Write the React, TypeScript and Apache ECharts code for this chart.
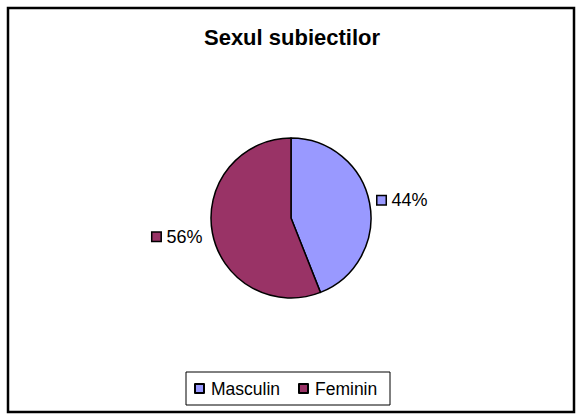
import React, { useEffect, useRef } from "react";
import * as echarts from "echarts";

const titleText = "Sexul subiectilor";
const categories = ["Masculin", "Feminin"];
const values = [44, 56];
const colors = ["#9999FF", "#993366"];

export default function App() {
  const ref = useRef<HTMLDivElement>(null);
  useEffect(() => {
    if (!ref.current) return;
    const chart = echarts.init(ref.current, undefined, { renderer: "svg" });
    const font = "Arial, 'Liberation Sans', sans-serif";
    const legendWidths: Record<string, number> = { Masculin: 78, Feminin: 66 };
    const labelOffsets = [[1, -2], [-3, 3]];
    chart.setOption({
      animation: false,
      backgroundColor: "#ffffff",
      title: {
        text: titleText,
        left: "center",
        top: 26,
        padding: 0,
        textStyle: { fontFamily: font, fontSize: 22, fontWeight: "bold", color: "#000" },
      },
      legend: {
        left: 186,
        top: 372,
        orient: "horizontal",
        icon: "rect",
        itemWidth: 9,
        itemHeight: 9,
        itemGap: 9,
        borderColor: "#000",
        borderWidth: 1,
        borderRadius: 0,
        padding: [6, 9, 6, 8],
        data: categories.map((c) => ({
          name: c,
          textStyle: { width: legendWidths[c] },
        })),
        textStyle: {
          fontFamily: font,
          fontSize: 17.5,
          color: "#000",
          lineHeight: 21,
          padding: [0, 0, 0, 2],
        },
      },
      graphic: [
        {
          type: "rect",
          shape: { x: 8, y: 8, width: 566, height: 404 },
          style: { fill: "none", stroke: "#000", lineWidth: 2.5 },
          silent: true,
        },
      ],
      series: [
        {
          type: "pie",
          center: [291, 218],
          radius: 80,
          startAngle: 90,
          clockwise: true,
          avoidLabelOverlap: false,
          itemStyle: { borderColor: "#000", borderWidth: 1.5 },
          labelLine: { show: false, length: 4, length2: 0 },
          label: {
            show: true,
            position: "outside",
            distanceToLabelLine: 3,
            formatter: (p: any) => `{sq${p.dataIndex}|}{t|${Math.round(p.percent)}%}`,
            rich: {
              sq0: { width: 8, height: 8, backgroundColor: colors[0], borderColor: "#000", borderWidth: 1.5 },
              sq1: { width: 8, height: 8, backgroundColor: colors[1], borderColor: "#000", borderWidth: 1.5 },
              t: { fontFamily: font, fontSize: 18, color: "#000", padding: [0, 0, 0, 6] },
            },
          },
          emphasis: { disabled: true },
          data: categories.map((c, i) => ({
            name: c,
            value: values[i],
            itemStyle: { color: colors[i] },
            label: { offset: labelOffsets[i] },
          })),
        },
      ],
    });
    return () => chart.dispose();
  }, []);
  return (
    <div
      ref={ref}
      style={{ position: "fixed", left: 0, top: 0, width: 584, height: 420 }}
    />
  );
}
